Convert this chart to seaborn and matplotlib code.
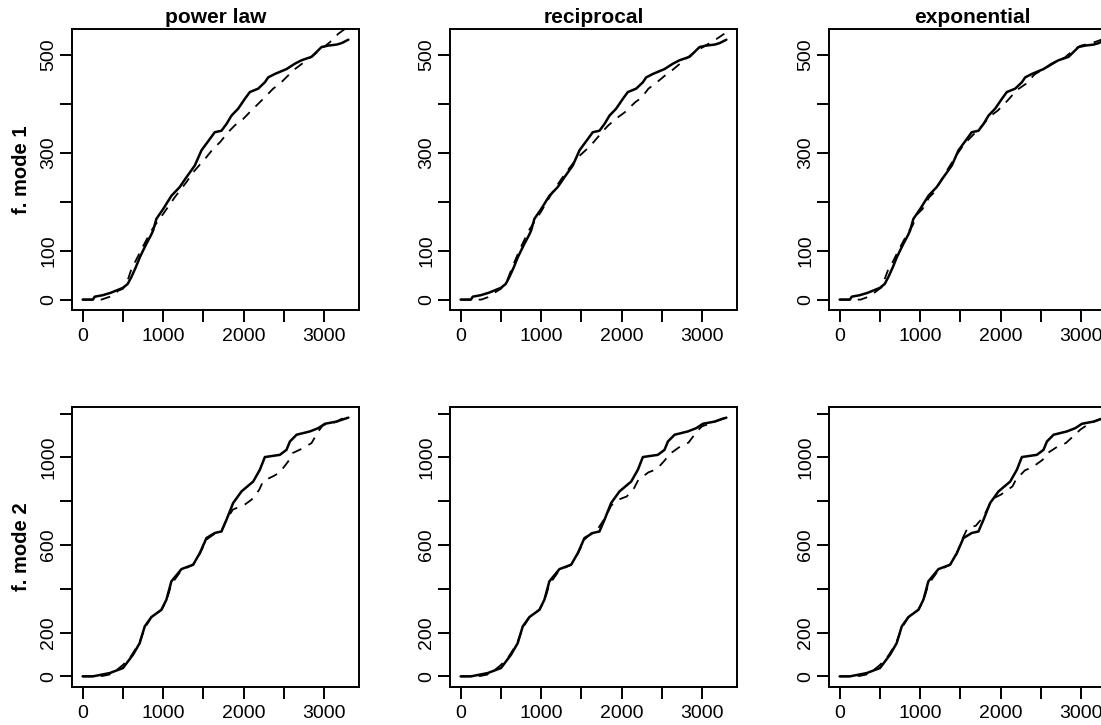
import matplotlib
matplotlib.use("Agg")
import matplotlib.pyplot as plt
import numpy as np
import pandas as pd
import seaborn as sns

# ---------------- data ----------------
model_titles = ["power law", "reciprocal", "exponential"]
row_labels = ["f. mode 1", "f. mode 2"]

# observed cumulative curve, mode 1 (solid)
obs1_x = [0, 128, 150, 250, 350, 500, 560, 605, 660, 709, 750, 792, 850, 875, 916, 1000,
          1102, 1206, 1289, 1393, 1476, 1579, 1641, 1724, 1787, 1849, 1931, 2014, 2076,
          2180, 2263, 2304, 2387, 2532, 2636, 2719, 2843, 2905, 2967, 3050, 3154, 3216, 3300]
obs1_y = [0, 0, 6, 9, 14, 24, 32, 46, 66, 86, 100, 114, 132, 141, 165, 185,
          212, 230, 250, 274, 305, 328, 342, 345, 359, 376, 390, 410, 424,
          431, 444, 454, 461, 471, 482, 489, 496, 506, 516, 519, 521, 524, 531]

# fitted curves, mode 1 (dashed)
pl1_x = [0, 130, 232, 377, 440, 500, 560, 605, 667, 760, 854, 916, 1000, 1144, 1289, 1372,
         1537, 1620, 1703, 1807, 1890, 1993, 2076, 2180, 2242, 2366, 2449, 2553, 2636,
         2750, 2864, 2988, 3071, 3174, 3300]
pl1_y = [0, 0, 0, 8, 18, 22, 40, 62, 82, 112, 141, 156, 175, 209, 240, 260,
         291, 308, 321, 342, 356, 369, 383, 400, 410, 431, 441, 458, 471,
         485, 499, 515, 526, 543, 558]

rec1_x = [0, 130, 257, 340, 420, 500, 580, 650, 750, 850, 1000, 1150, 1300, 1450, 1585,
          1647, 1772, 1834, 1958, 2041, 2166, 2249, 2332, 2415, 2540, 2623, 2767, 2900,
          3000, 3183, 3300]
rec1_y = [0, 0, 0, 5, 14, 22, 40, 70, 108, 142, 180, 222, 258, 290, 310,
          321, 345, 356, 373, 383, 403, 413, 431, 441, 458, 468, 488, 505,
          515, 533, 546]

exp1_x = [0, 130, 261, 344, 430, 520, 614, 656, 760, 863, 905, 967, 1029, 1112, 1174,
          1300, 1450, 1548, 1631, 1750, 1880, 1963, 2087, 2200, 2315, 2420, 2502, 2600,
          2700, 2800, 2917, 3000, 3150, 3300]
exp1_y = [0, 0, 0, 5, 14, 25, 66, 76, 110, 141, 151, 175, 185, 209, 219,
          255, 295, 318, 332, 352, 376, 386, 407, 428, 441, 460, 468, 477,
          487, 495, 512, 519, 525, 534]

# observed cumulative curve, mode 2 (solid)
obs2_x = [0, 128, 336, 501, 626, 709, 771, 854, 978, 1040, 1102, 1227, 1372, 1455, 1538,
          1641, 1724, 1787, 1869, 1973, 2118, 2201, 2263, 2449, 2532, 2574, 2657, 2822,
          2926, 3009, 3154, 3216, 3300]
obs2_y = [0, 0, 15, 38, 99, 152, 228, 271, 304, 350, 434, 490, 510, 563, 632,
          655, 662, 716, 792, 845, 890, 944, 1002, 1012, 1035, 1073, 1104, 1119,
          1134, 1154, 1164, 1172, 1182]

# fitted curves, mode 2 (dashed)
pl2_x = [0, 130, 250, 330, 420, 500, 600, 700, 770, 850, 980, 1040, 1102, 1227, 1372,
         1455, 1538, 1641, 1724, 1787, 1866, 1950, 2014, 2097, 2192, 2242, 2375, 2449,
         2553, 2607, 2740, 2843, 2926, 2988, 3112, 3300]
pl2_y = [0, 0, 2, 8, 28, 52, 92, 150, 220, 268, 305, 345, 420, 485, 510,
         560, 625, 652, 665, 716, 762, 775, 785, 807, 852, 892, 916, 932,
         982, 1020, 1043, 1066, 1119, 1149, 1157, 1192]

rec2_x = [0, 130, 250, 330, 420, 500, 600, 700, 770, 850, 980, 1040, 1102, 1227, 1372,
          1455, 1538, 1647, 1709, 1787, 1869, 1958, 2063, 2154, 2207, 2332, 2436, 2540,
          2581, 2726, 2830, 2934, 2996, 3112, 3300]
rec2_y = [0, 0, 2, 8, 28, 52, 92, 150, 220, 268, 305, 345, 420, 485, 510,
          560, 625, 662, 677, 720, 780, 807, 822, 860, 898, 932, 947, 989,
          1012, 1050, 1068, 1119, 1142, 1157, 1185]

exp2_x = [0, 130, 250, 330, 420, 500, 600, 700, 770, 850, 980, 1040, 1102, 1227, 1372,
          1455, 1520, 1588, 1691, 1787, 1869, 1919, 2002, 2147, 2188, 2300, 2395, 2520,
          2582, 2707, 2810, 2922, 2988, 3100, 3300]
exp2_y = [0, 0, 2, 8, 28, 52, 92, 150, 220, 268, 305, 345, 420, 485, 510,
          560, 625, 677, 688, 730, 790, 815, 830, 868, 898, 941, 956, 989,
          1020, 1050, 1066, 1104, 1127, 1155, 1185]

x_ticks = [0, 500, 1000, 1500, 2000, 2500, 3000]
x_ticklabels = ["0", "", "1000", "", "2000", "", "3000"]
y_ticks = [[0, 100, 200, 300, 400, 500], [0, 200, 400, 600, 800, 1000, 1200]]
y_ticklabels = [["0", "100", "", "300", "", "500"],
                ["0", "200", "", "600", "", "1000", ""]]

# ---------------- plotting ----------------
sns.set_theme(style="white")
plt.rcParams['font.family'] = ['Liberation Sans', 'DejaVu Sans']
plt.rcParams['axes.linewidth'] = 1.4
plt.rcParams['axes.edgecolor'] = 'black'
plt.rcParams['text.color'] = 'black'
plt.rcParams['axes.labelcolor'] = 'black'
plt.rcParams['axes.titlecolor'] = 'black'
plt.rcParams['xtick.color'] = 'black'
plt.rcParams['ytick.color'] = 'black'
plt.rcParams['xtick.labelcolor'] = 'black'
plt.rcParams['ytick.labelcolor'] = 'black'

W, H = 1101, 725
fig = plt.figure(figsize=(W / 100, H / 100), dpi=100)
fig.patch.set_facecolor('white')

col_left_px = [72, 450, 829]
box_w_px = 287
row_top_px = [29.3, 407.3]
row_bot_px = [310, 686.7]

obs = [(obs1_x, obs1_y), (obs2_x, obs2_y)]
fits = [[(pl1_x, pl1_y), (rec1_x, rec1_y), (exp1_x, exp1_y)],
        [(pl2_x, pl2_y), (rec2_x, rec2_y), (exp2_x, exp2_y)]]

for r in range(2):
    ox, oy = obs[r]
    xr = max(ox) - min(ox)
    yr = max(oy) - min(oy)
    xlim = (min(ox) - 0.04 * xr, max(ox) + 0.04 * xr)
    ylim = (min(oy) - 0.04 * yr, max(oy) + 0.04 * yr)
    for c in range(3):
        ax = fig.add_axes([col_left_px[c] / W, 1 - row_bot_px[r] / H,
                           box_w_px / W, (row_bot_px[r] - row_top_px[r]) / H])
        ax.set_facecolor('white')
        df_o = pd.DataFrame({"x": ox, "y": oy})
        sns.lineplot(data=df_o, x="x", y="y", ax=ax, color="black", linewidth=1.8,
                     estimator=None, sort=False)
        fx, fy = fits[r][c]
        df_f = pd.DataFrame({"x": fx, "y": fy})
        sns.lineplot(data=df_f, x="x", y="y", ax=ax, color="black", linewidth=1.3,
                     linestyle=(0, (5.5, 4.5)), estimator=None, sort=False)
        ax.set_xlim(*xlim)
        ax.set_ylim(*ylim)
        ax.set_xlabel("")
        ax.set_ylabel("")
        ax.set_xticks(x_ticks)
        ax.set_xticklabels(x_ticklabels, fontsize=14, color='black')
        ax.set_yticks(y_ticks[r])
        ax.set_yticklabels(y_ticklabels[r], fontsize=14, rotation=90, va='center',
                           color='black')
        ax.tick_params(axis='x', direction='out', length=8.6, width=1.4, pad=4.3,
                       colors='black', bottom=True)
        ax.tick_params(axis='y', direction='out', length=8.6, width=1.4, pad=1.9,
                       colors='black', left=True)
        for s in ax.spines.values():
            s.set_color('black')
            s.set_linewidth(1.4)
        if r == 0:
            ax.set_title(model_titles[c], fontsize=15, fontweight='bold', pad=4.8,
                         color='black')

for r in range(2):
    yc = 1 - ((row_top_px[r] + row_bot_px[r]) / 2) / H
    fig.text(22 / W, yc, row_labels[r], rotation=90, ha='center', va='center',
             fontsize=14.5, fontweight='bold', color='black')

fig.savefig("out.png", dpi=100, facecolor='white')
